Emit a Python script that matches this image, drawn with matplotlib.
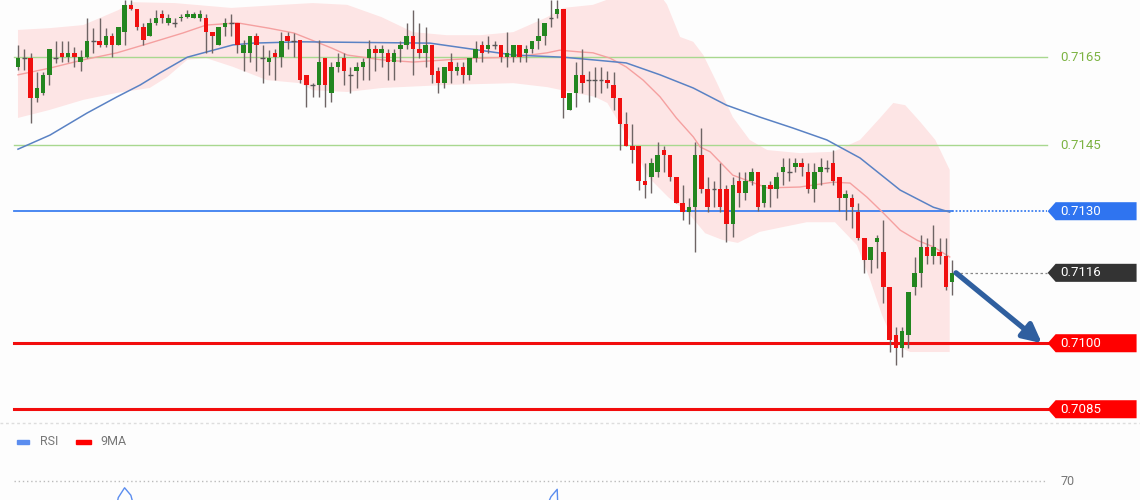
import matplotlib.pyplot as plt
import numpy as np
from matplotlib.patches import Polygon, Rectangle
from matplotlib.transforms import blended_transform_factory

plt.rcParams['font.family'] = ['Roboto', 'DejaVu Sans']

# CANDLES (one per bar)
opens = [0.71628, 0.71648, 0.71648, 0.71557, 0.71569, 0.71610, 0.71648, 0.71660, 0.71650, 0.71660,
         0.71639, 0.71650, 0.71687, 0.71687, 0.71678, 0.71698, 0.71678, 0.71707, 0.71769, 0.71760,
         0.71719, 0.71698, 0.71728, 0.71748, 0.71728, 0.71728, 0.71739, 0.71741, 0.71739, 0.71739,
         0.71739, 0.71707, 0.71678, 0.71719, 0.71728, 0.71728, 0.71660, 0.71660, 0.71698, 0.71648,
         0.71639, 0.71660, 0.71650, 0.71698, 0.71687, 0.71689, 0.71610, 0.71587, 0.71587, 0.71648,
         0.71569, 0.71628, 0.71648, 0.71610, 0.71619, 0.71628, 0.71648, 0.71669, 0.71660, 0.71660,
         0.71639, 0.71669, 0.71678, 0.71698, 0.71669, 0.71660, 0.71678, 0.71619, 0.71591, 0.71639,
         0.71619, 0.71628, 0.71610, 0.71648, 0.71678, 0.71669, 0.71678, 0.71678, 0.71650, 0.71650,
         0.71678, 0.71660, 0.71669, 0.71687, 0.71698, 0.71739, 0.71748, 0.71760, 0.71530, 0.71569,
         0.71610, 0.71598, 0.71598, 0.71598, 0.71598, 0.71587, 0.71557, 0.71498, 0.71448, 0.71448,
         0.71369, 0.71378, 0.71389, 0.71439, 0.71428, 0.71378, 0.71319, 0.71298, 0.71309, 0.71428,
         0.71350, 0.71350, 0.71350, 0.71350, 0.71271, 0.71369, 0.71341, 0.71369, 0.71389, 0.71319,
         0.71360, 0.71350, 0.71389, 0.71389, 0.71400, 0.71409, 0.71389, 0.71350, 0.71389, 0.71398,
         0.71409, 0.71378, 0.71330, 0.71330, 0.71298, 0.71239, 0.71189, 0.71230, 0.71207, 0.71128,
         0.71019, 0.70989, 0.71019, 0.71128, 0.71160, 0.71219, 0.71198, 0.71207, 0.71198, 0.71139]
highs = [0.71678, 0.71669, 0.71660, 0.71616, 0.71616, 0.71669, 0.71687, 0.71687, 0.71687, 0.71673,
         0.71666, 0.71739, 0.71716, 0.71739, 0.71716, 0.71705, 0.71719, 0.71780, 0.71780, 0.71760,
         0.71728, 0.71739, 0.71757, 0.71757, 0.71748, 0.71739, 0.71748, 0.71757, 0.71753, 0.71757,
         0.71748, 0.71707, 0.71719, 0.71739, 0.71748, 0.71728, 0.71689, 0.71698, 0.71705, 0.71678,
         0.71666, 0.71669, 0.71707, 0.71707, 0.71705, 0.71689, 0.71610, 0.71591, 0.71689, 0.71648,
         0.71639, 0.71660, 0.71660, 0.71628, 0.71639, 0.71648, 0.71689, 0.71678, 0.71678, 0.71669,
         0.71669, 0.71687, 0.71728, 0.71757, 0.71728, 0.71719, 0.71678, 0.71628, 0.71628, 0.71660,
         0.71639, 0.71639, 0.71648, 0.71687, 0.71687, 0.71698, 0.71687, 0.71678, 0.71707, 0.71678,
         0.71678, 0.71678, 0.71687, 0.71739, 0.71728, 0.71780, 0.71780, 0.71760, 0.71569, 0.71639,
         0.71669, 0.71619, 0.71628, 0.71628, 0.71619, 0.71616, 0.71557, 0.71525, 0.71498, 0.71448,
         0.71409, 0.71421, 0.71457, 0.71448, 0.71428, 0.71378, 0.71360, 0.71330, 0.71457, 0.71489,
         0.71378, 0.71369, 0.71409, 0.71360, 0.71378, 0.71389, 0.71389, 0.71398, 0.71389, 0.71360,
         0.71369, 0.71389, 0.71421, 0.71421, 0.71421, 0.71421, 0.71409, 0.71409, 0.71421, 0.71416,
         0.71439, 0.71378, 0.71348, 0.71339, 0.71319, 0.71239, 0.71219, 0.71246, 0.71280, 0.71128,
         0.71037, 0.71037, 0.71116, 0.71196, 0.71246, 0.71239, 0.71269, 0.71239, 0.71239, 0.71189]
lows = [0.71621, 0.71621, 0.71500, 0.71548, 0.71564, 0.71587, 0.71637, 0.71639, 0.71639, 0.71628,
        0.71619, 0.71648, 0.71660, 0.71673, 0.71673, 0.71650, 0.71678, 0.71678, 0.71757, 0.71712,
        0.71678, 0.71698, 0.71723, 0.71728, 0.71723, 0.71719, 0.71732, 0.71739, 0.71739, 0.71732,
        0.71660, 0.71660, 0.71678, 0.71698, 0.71698, 0.71660, 0.71619, 0.71639, 0.71619, 0.71591,
        0.71610, 0.71598, 0.71628, 0.71669, 0.71650, 0.71591, 0.71537, 0.71560, 0.71560, 0.71537,
        0.71548, 0.71616, 0.71587, 0.71569, 0.71580, 0.71598, 0.71598, 0.71619, 0.71628, 0.71598,
        0.71598, 0.71639, 0.71669, 0.71610, 0.71648, 0.71628, 0.71591, 0.71569, 0.71580, 0.71591,
        0.71610, 0.71591, 0.71598, 0.71639, 0.71639, 0.71660, 0.71669, 0.71639, 0.71628, 0.71639,
        0.71639, 0.71639, 0.71660, 0.71669, 0.71678, 0.71719, 0.71739, 0.71512, 0.71530, 0.71537,
        0.71569, 0.71548, 0.71560, 0.71569, 0.71580, 0.71530, 0.71439, 0.71448, 0.71409, 0.71348,
        0.71330, 0.71341, 0.71378, 0.71389, 0.71369, 0.71319, 0.71280, 0.71271, 0.71207, 0.71341,
        0.71298, 0.71309, 0.71298, 0.71230, 0.71241, 0.71309, 0.71325, 0.71360, 0.71300, 0.71309,
        0.71309, 0.71330, 0.71360, 0.71369, 0.71389, 0.71380, 0.71341, 0.71321, 0.71360, 0.71389,
        0.71360, 0.71300, 0.71280, 0.71262, 0.71235, 0.71160, 0.71160, 0.71171, 0.71091, 0.70980,
        0.70950, 0.70969, 0.70989, 0.71110, 0.71128, 0.71180, 0.71180, 0.71180, 0.71121, 0.71110]
closes = [0.71648, 0.71648, 0.71557, 0.71580, 0.71610, 0.71669, 0.71648, 0.71650, 0.71660, 0.71650,
          0.71650, 0.71687, 0.71687, 0.71678, 0.71698, 0.71678, 0.71719, 0.71769, 0.71760, 0.71719,
          0.71689, 0.71728, 0.71739, 0.71739, 0.71739, 0.71728, 0.71741, 0.71748, 0.71748, 0.71748,
          0.71707, 0.71698, 0.71719, 0.71728, 0.71728, 0.71678, 0.71678, 0.71698, 0.71678, 0.71648,
          0.71648, 0.71650, 0.71687, 0.71687, 0.71687, 0.71598, 0.71587, 0.71587, 0.71639, 0.71587,
          0.71628, 0.71639, 0.71619, 0.71610, 0.71628, 0.71639, 0.71669, 0.71660, 0.71669, 0.71639,
          0.71660, 0.71678, 0.71698, 0.71669, 0.71660, 0.71678, 0.71610, 0.71591, 0.71628, 0.71619,
          0.71628, 0.71610, 0.71648, 0.71669, 0.71660, 0.71678, 0.71678, 0.71650, 0.71660, 0.71678,
          0.71650, 0.71669, 0.71687, 0.71698, 0.71728, 0.71739, 0.71760, 0.71557, 0.71569, 0.71610,
          0.71591, 0.71598, 0.71598, 0.71598, 0.71591, 0.71557, 0.71498, 0.71448, 0.71439, 0.71369,
          0.71360, 0.71409, 0.71428, 0.71428, 0.71378, 0.71319, 0.71298, 0.71309, 0.71428, 0.71350,
          0.71309, 0.71350, 0.71309, 0.71271, 0.71360, 0.71341, 0.71369, 0.71389, 0.71309, 0.71360,
          0.71350, 0.71378, 0.71400, 0.71389, 0.71409, 0.71400, 0.71350, 0.71389, 0.71400, 0.71398,
          0.71369, 0.71330, 0.71339, 0.71309, 0.71239, 0.71189, 0.71219, 0.71239, 0.71128, 0.71007,
          0.70989, 0.71028, 0.71116, 0.71160, 0.71219, 0.71198, 0.71219, 0.71198, 0.71128, 0.71160]

# BOLLINGER BAND EDGES (bar index, price)
up_idx = [0, 5, 10.4, 16, 18.3, 25, 34, 42, 47, 52.5, 58, 63, 68.4, 73.7, 79, 84.4, 87, 91.7, 96,
          102.4, 103.5, 105.6, 107.7, 109.3, 111.5, 114, 116.7, 119.5, 124.7, 130, 134.3, 137.5,
          139.6, 141.5, 143.9, 146.3, 148.6]
up_val = [0.71712, 0.71716, 0.71723, 0.71757, 0.71775, 0.71773, 0.71762, 0.71769, 0.71773, 0.71769,
          0.71741, 0.71707, 0.71700, 0.71700, 0.71707, 0.71741, 0.71762, 0.71769, 0.71791, 0.71791,
          0.71770, 0.71696, 0.71685, 0.71655, 0.71591, 0.71514, 0.71462, 0.71439, 0.71432, 0.71435,
          0.71462, 0.71512, 0.71546, 0.71541, 0.71503, 0.71462, 0.71394]
low_idx = [0, 5, 10.4, 15.8, 21, 23.8, 27, 30, 34.3, 39.7, 45, 47, 52.5, 58, 68.4, 79, 84.4, 88.8,
           92, 94, 96.3, 98.4, 100.5, 103.7, 106.9, 109.6, 112.3, 114.8, 118.3, 122, 125.8, 130.3,
           133.8, 135.9, 137.8, 139.9, 142.3, 148.6]
low_val = [0.71512, 0.71530, 0.71553, 0.71569, 0.71580, 0.71605, 0.71644, 0.71648, 0.71628, 0.71598,
           0.71591, 0.71575, 0.71571, 0.71580, 0.71587, 0.71591, 0.71582, 0.71569, 0.71560, 0.71546,
           0.71491, 0.71439, 0.71378, 0.71332, 0.71296, 0.71250, 0.71235, 0.71228, 0.71253, 0.71264,
           0.71275, 0.71275, 0.71223, 0.71144, 0.71064, 0.70996, 0.70980, 0.70980]

# MOVING AVERAGES
red_idx = [0, 5, 10.4, 15.8, 21, 26.3, 30, 35, 40, 44, 50, 52.5, 58, 63, 68.4, 73.7, 79, 84.4, 86.4,
           89.6, 91.7, 94.4, 97, 99.7, 102.4, 105, 107.7, 108.8, 110.4, 114, 119.5, 124.7, 130,
           132.7, 135.4, 138, 140.7, 143.4, 146, 148.6]
red_val = [0.71610, 0.71625, 0.71644, 0.71660, 0.71682, 0.71705, 0.71723, 0.71728, 0.71716, 0.71705,
           0.71671, 0.71655, 0.71644, 0.71639, 0.71644, 0.71648, 0.71650, 0.71660, 0.71666, 0.71662,
           0.71660, 0.71648, 0.71628, 0.71598, 0.71560, 0.71512, 0.71469, 0.71446, 0.71435, 0.71382,
           0.71353, 0.71355, 0.71366, 0.71364, 0.71332, 0.71296, 0.71257, 0.71234, 0.71219, 0.71196]
blue_idx = [0, 5.1, 11, 15.8, 19.5, 22.6, 27, 30.1, 34.3, 37.5, 45, 65.7, 79, 87, 91.7, 97, 102.4,
            107.7, 113, 118.3, 123.6, 129, 134.3, 140.7, 146, 148.6]
blue_val = [0.71441, 0.71473, 0.71523, 0.71560, 0.71587, 0.71614, 0.71650, 0.71662, 0.71678, 0.71682,
            0.71685, 0.71682, 0.71655, 0.71650, 0.71644, 0.71637, 0.71610, 0.71580, 0.71541, 0.71514,
            0.71489, 0.71462, 0.71421, 0.71348, 0.71309, 0.71298]

# LEVELS
supp_res = [0.7165, 0.7145]
pivot = 0.7130
current = 0.7116
targets = [0.7100, 0.7085]

# RSI (only the two visible peaks)
rsi1_idx = [15, 16, 17, 18, 19]
rsi1_val = [64.0, 67.8, 69.1, 68.1, 65.0]
rsi2_idx = [83, 84, 85, 86, 87]
rsi2_val = [63.0, 66.0, 67.9, 68.9, 45.0]
rsi_level = 70

n = len(closes)
x = np.arange(n)
o = np.array(opens); h = np.array(highs); l = np.array(lows); c = np.array(closes)

fig = plt.figure(figsize=(11.4, 5.0), dpi=100)
fig.patch.set_facecolor('#fdfdfd')
ax = fig.add_axes([0, 0.156, 1, 0.844])
ax.set_facecolor('#fdfdfd')
ax.set_xlim(-2.87, 178.95)
ax.set_ylim(0.70821, 0.71780)
ax.axis('off')
bt = blended_transform_factory(ax.transAxes, ax.transData)

# band
ax.fill(np.concatenate([up_idx, low_idx[::-1]]), np.concatenate([up_val, low_val[::-1]]),
        color='#fde5e5', lw=0, zorder=1)
ax.plot(red_idx, red_val, color='#f5a0a0', lw=1, zorder=2)
ax.plot(blue_idx, blue_val, color='#5a82c4', lw=1.1, zorder=2)

# horizontal levels
for lv in supp_res:
    ax.axhline(lv, xmin=0.012, xmax=0.918, color='#a8d88f', lw=1, zorder=1.5)
    ax.text(0.930, lv, f'{lv:.4f}', transform=bt, color='#7cb342', va='center', ha='left', fontsize=9.5)
ax.axhline(pivot, xmin=0.012, xmax=0.835, color='#3d7ff0', lw=1.3, zorder=1.5)
ax.axhline(pivot, xmin=0.835, xmax=0.918, color='#3d7ff0', lw=1.3, ls=(0, (1, 1)), zorder=1.5)
ax.axhline(current, xmin=0.838, xmax=0.918, color='#888888', lw=0.9, ls=(0, (2, 2)), zorder=1.5)
for lv in targets:
    ax.axhline(lv, xmin=0.012, xmax=0.918, color='#f20d0d', lw=2.2, zorder=1.5)


def tag(level, face):
    hh = 0.000205
    pts = [(0.919, level), (0.926, level + hh), (0.997, level + hh), (0.997, level - hh), (0.926, level - hh)]
    ax.add_patch(Polygon(pts, closed=True, transform=bt, facecolor=face, edgecolor='none',
                         clip_on=False, zorder=5))
    ax.text(0.930, level, f'{level:.4f}', transform=bt, color='white', va='center', ha='left',
            fontsize=9.5, zorder=6)


tag(pivot, '#2f74f0')
tag(current, '#333333')
for lv in targets:
    tag(lv, '#ff0000')

# candles
up = c > o
dn = c < o
dj = c == o
ax.vlines(x, l, h, color='#6e6464', lw=1, zorder=3)
ax.bar(x[up], (c - o)[up], bottom=o[up], width=0.72, color='#23861f', zorder=4)
ax.bar(x[dn], (o - c)[dn], bottom=c[dn], width=0.72, color='#f01010', zorder=4)
ax.hlines(c[dj], x[dj] - 0.38, x[dj] + 0.38, color='#555555', lw=1, zorder=4)

# arrow to target
ax.annotate('', xy=(n + 13.3, targets[0]), xytext=(n - 0.4, closes[-1]),
            arrowprops=dict(arrowstyle='-|>', color='#2f5f9f', lw=3.8, mutation_scale=28,
                            shrinkA=0, shrinkB=0), zorder=6)

# separator
fig.add_artist(plt.Line2D([0, 1], [0.154, 0.154], color='#dddddd', lw=1, ls=(0, (2, 2))))

# RSI panel
rx = fig.add_axes([0, 0, 1, 0.15])
rx.set_xlim(-2.87, 178.95)
rx.set_ylim(67.47, 77.47)
rx.axis('off')
rbt = blended_transform_factory(rx.transAxes, rx.transData)
rx.axhline(rsi_level, xmin=0.012, xmax=0.918, color='#bbbbbb', lw=1, ls=(0, (1, 2)))
rx.text(0.930, rsi_level, str(rsi_level), transform=rbt, color='#777777', va='center', ha='left',
        fontsize=9)
rx.plot(rsi1_idx, rsi1_val, color='#5b8def', lw=1)
rx.plot(rsi2_idx, rsi2_val, color='#5b8def', lw=1)
rx.add_patch(Rectangle((0.015, 0.75), 0.010, 0.05, transform=rx.transAxes, color='#5b8def'))
rx.text(0.035, 0.775, 'RSI', transform=rx.transAxes, color='#777777', va='center', fontsize=9)
rx.add_patch(Rectangle((0.067, 0.75), 0.013, 0.05, transform=rx.transAxes, color='#ff0000'))
rx.text(0.088, 0.775, '9MA', transform=rx.transAxes, color='#777777', va='center', fontsize=9)

fig.savefig('out.png', dpi=100, facecolor=fig.get_facecolor())
